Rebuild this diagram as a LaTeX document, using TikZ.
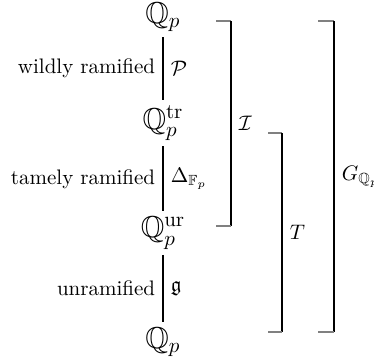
\documentclass[tikz,border=0pt]{standalone}
\usepackage{amsmath,amssymb}
\begin{document}
\begin{tikzpicture}[x=0.476pt,y=-0.476pt,
  field/.style={font=\Large, inner sep=2.5pt},
  conn/.style={line width=0.8pt},
  tickmark/.style={black!50, line width=0.6pt},
  barline/.style={line width=0.8pt}]
\useasboundingbox (0,0) rectangle (374,360);
\node[field] (top) at (163,17) {$\mathbb{Q}_p$};
\node[field] (tr) at (163,123) {$\mathbb{Q}_p^{\mathrm{tr}}$};
\node[field] (ur) at (163,233) {$\mathbb{Q}_p^{\mathrm{ur}}$};
\node[field] (bot) at (163,342) {$\mathbb{Q}_p$};
\draw[conn] (top) -- node[left]{wildly ramified} node[right]{$\mathcal{P}$} (tr);
\draw[conn] (tr) -- node[left]{tamely ramified} node[right]{$\Delta_{\mathbb{F}_p}$} (ur);
\draw[conn] (ur) -- node[left]{unramified} node[right]{$\mathfrak{g}$} (bot);
% I bracket
\coordinate (ia) at (216,21); \coordinate (ib) at (231,21);
\coordinate (ic) at (231,226); \coordinate (id) at (216,226);
\draw[tickmark] (ia) -- (ib);
\draw[barline] (ib) -- node[right]{$\mathcal{I}$} (ic);
\draw[tickmark] (ic) -- (id);
% T bracket
\coordinate (ta) at (268,133); \coordinate (tb) at (282,133);
\coordinate (tc) at (282,332); \coordinate (td) at (268,332);
\draw[tickmark] (ta) -- (tb);
\draw[barline] (tb) -- node[right]{$T$} (tc);
\draw[tickmark] (tc) -- (td);
% G bracket
\coordinate (ga) at (318,21); \coordinate (gb) at (334,21);
\coordinate (gc) at (334,332); \coordinate (gd) at (318,332);
\draw[tickmark] (ga) -- (gb);
\draw[barline] (gb) -- node[right]{$G_{\mathbb{Q}_p}$} (gc);
\draw[tickmark] (gc) -- (gd);
\end{tikzpicture}
\end{document}
